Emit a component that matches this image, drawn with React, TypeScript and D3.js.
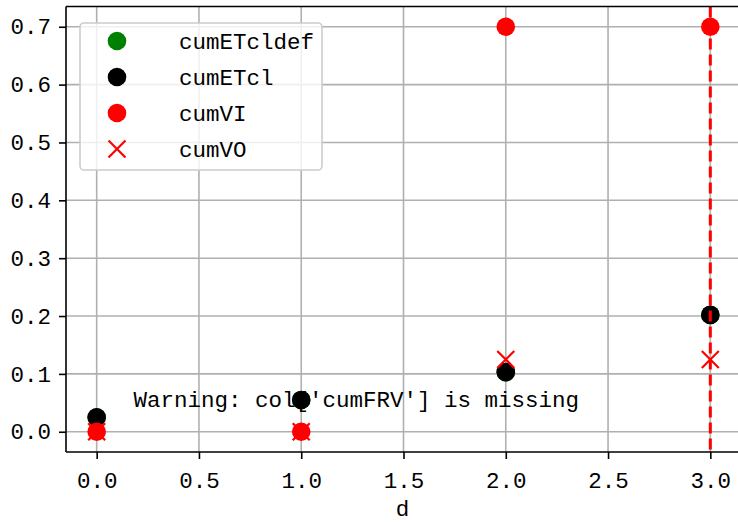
import React, { useEffect, useRef } from 'react';
import * as d3 from 'd3';

const days = [0, 1, 2, 3];
const cumETcldef = [0.025, 0.055, 0.103, 0.202];
const cumETcl = [0.025, 0.055, 0.103, 0.202];
const cumVI = [0, 0, 0.7, 0.7];
const cumVO = [0, 0, 0.125, 0.125];
const xTicks = [0, 0.5, 1, 1.5, 2, 2.5, 3];
const yTicks = [0, 0.1, 0.2, 0.3, 0.4, 0.5, 0.6, 0.7];
const markerDay = 3;
const warning = "Warning: col['cumFRV'] is missing";

const legendItems = [
  { name: 'cumETcldef', color: 'green', kind: 'dot' },
  { name: 'cumETcl', color: 'black', kind: 'dot' },
  { name: 'cumVI', color: 'red', kind: 'dot' },
  { name: 'cumVO', color: 'red', kind: 'x' },
];

const FONT = '"Liberation Mono", "DejaVu Sans Mono", monospace';

const App: React.FC = () => {
  const svgRef = useRef<SVGSVGElement>(null);

  useEffect(() => {
    if (!svgRef.current) return;
    const width = 738;
    const height = 522;
    const svg = d3.select(svgRef.current);
    svg.selectAll('*').remove();

    const left = 66, right = 741, top = 6.5, bottom = 452;
    const x = d3.scaleLinear().domain([-0.15, 3.15]).range([left, right]);
    const y = d3.scaleLinear().domain([-0.035, 0.735]).range([bottom, top]);

    svg.append('rect').attr('width', width).attr('height', height).attr('fill', '#fff');

    // grid
    const grid = svg.append('g').attr('stroke', '#b0b0b0').attr('stroke-width', 1.6);
    grid.selectAll('.gx').data(xTicks).join('line')
      .attr('x1', d => x(d)).attr('x2', d => x(d)).attr('y1', top).attr('y2', bottom);
    grid.selectAll('.gy').data(yTicks).join('line')
      .attr('y1', d => y(d)).attr('y2', d => y(d)).attr('x1', left).attr('x2', right);

    const dot = (vals: number[], color: string) => {
      svg.append('g').selectAll('circle').data(vals).join('circle')
        .attr('cx', (_, i) => x(days[i])).attr('cy', d => y(d))
        .attr('r', 9.3).attr('fill', color);
    };
    dot(cumETcldef, 'green');
    dot(cumETcl, 'black');
    dot(cumVI, 'red');

    const cross = d3.symbol().type(d3.symbolX).size(190);
    svg.append('g').selectAll('path').data(cumVO).join('path')
      .attr('d', cross)
      .attr('transform', (d, i) => `translate(${x(days[i])},${y(d)})`)
      .attr('fill', 'none').attr('stroke', 'red').attr('stroke-width', 2.2);

    // vertical dashed marker line
    svg.append('line')
      .attr('x1', x(markerDay)).attr('x2', x(markerDay))
      .attr('y1', top).attr('y2', bottom)
      .attr('stroke', 'red').attr('stroke-width', 3)
      .attr('stroke-dasharray', '11,5');

    // warning text in axes coordinates
    svg.append('text')
      .attr('x', left + 0.1 * (right - left))
      .attr('y', bottom - 0.1 * (bottom - top))
      .attr('font-family', FONT).attr('font-size', 22.5)
      .attr('fill', '#000')
      .text(warning);

    // spines
    svg.append('g').attr('stroke', '#000').attr('stroke-width', 1.6).attr('fill', 'none')
      .call(g => {
        g.append('line').attr('x1', left).attr('x2', left).attr('y1', top).attr('y2', bottom);
        g.append('line').attr('x1', left).attr('x2', right).attr('y1', bottom).attr('y2', bottom);
        g.append('line').attr('x1', left).attr('x2', right).attr('y1', top).attr('y2', top);
      });

    // axes
    const xAxis = svg.append('g').attr('transform', `translate(0,${bottom})`)
      .call(d3.axisBottom(x).tickValues(xTicks).tickFormat(d3.format('.1f')).tickSize(7).tickPadding(8));
    const yAxis = svg.append('g').attr('transform', `translate(${left},0)`)
      .call(d3.axisLeft(y).tickValues(yTicks).tickFormat(d3.format('.1f')).tickSize(7).tickPadding(8));
    [xAxis, yAxis].forEach(a => {
      a.select('.domain').remove();
      a.selectAll('line').attr('stroke', '#000').attr('stroke-width', 1.6);
      a.selectAll('text').attr('font-family', FONT).attr('font-size', 22.5).attr('fill', '#000');
    });
    xAxis.selectAll('text').attr('dy', '0.95em');

    svg.append('text')
      .attr('x', (left + right) / 2 - 1).attr('y', 516)
      .attr('text-anchor', 'middle')
      .attr('font-family', FONT).attr('font-size', 22.5)
      .text('d');

    // legend
    const lg = svg.append('g');
    lg.append('rect')
      .attr('x', 80).attr('y', 23).attr('width', 242).attr('height', 147)
      .attr('rx', 4).attr('fill', '#fff').attr('fill-opacity', 0.8)
      .attr('stroke', '#ccc').attr('stroke-width', 1.6);
    legendItems.forEach((it, i) => {
      const cy = 41 + i * 36;
      if (it.kind === 'dot') {
        lg.append('circle').attr('cx', 117).attr('cy', cy).attr('r', 9.3).attr('fill', it.color);
      } else {
        lg.append('path').attr('d', cross).attr('transform', `translate(117,${cy})`)
          .attr('fill', 'none').attr('stroke', it.color).attr('stroke-width', 2.2);
      }
      lg.append('text').attr('x', 179).attr('y', cy).attr('dy', '0.35em')
        .attr('font-family', FONT).attr('font-size', 22.5).attr('fill', '#000')
        .text(it.name);
    });
  }, []);

  return (
    <svg ref={svgRef} width={738} height={522}
      style={{ position: 'absolute', left: 0, top: 0, display: 'block' }} />
  );
};

export default App;
